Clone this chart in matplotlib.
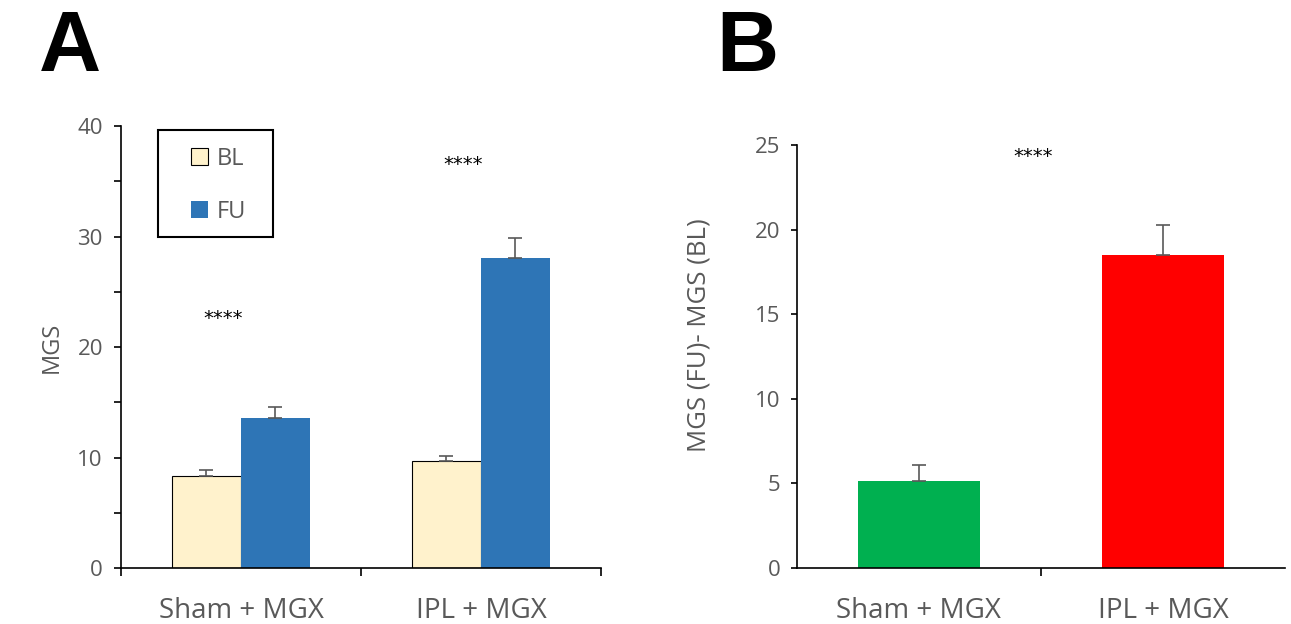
import numpy as np
import matplotlib
matplotlib.use("Agg")
import matplotlib.pyplot as plt
from matplotlib.patches import Rectangle
from matplotlib.ticker import MultipleLocator

plt.rcParams['font.family'] = ['Open Sans', 'DejaVu Sans']

# data
groups = ["Sham + MGX", "IPL + MGX"]
bl_mean = [8.3, 9.7]
bl_err = [0.6, 0.45]
fu_mean = [13.6, 28.1]
fu_err = [1.0, 1.8]
stars_a = ["****", "****"]
stars_a_y = [22.6, 36.5]

diff_mean = [5.15, 18.5]
diff_err = [0.95, 1.8]
diff_colors = ["#00b050", "#ff0000"]
stars_b = "****"
stars_b_y = 24.3

gray = "#595959"

fig = plt.figure(figsize=(12.91, 6.24), dpi=100)

# panel A
ax = fig.add_axes([0.0937, 0.0897, 0.3718, 0.7083])
x = np.arange(len(groups)) + 0.5
w = 0.2875
ax.bar(x - w/2, bl_mean, w, color="#fff2cc", edgecolor="black", linewidth=0.8, label="BL")
ax.bar(x + w/2, fu_mean, w, color="#2e75b6", edgecolor="none", label="FU")
ax.errorbar(x - w/2, bl_mean, yerr=[np.zeros(2), bl_err], fmt="none", ecolor=gray, capsize=5, elinewidth=1.2, capthick=1.2)
ax.errorbar(x + w/2, fu_mean, yerr=[np.zeros(2), fu_err], fmt="none", ecolor=gray, capsize=5, elinewidth=1.2, capthick=1.2)
for i in range(len(groups)):
    ax.text(x[i] - 0.075, stars_a_y[i], stars_a[i], ha="center", va="center", fontsize=14, family="DejaVu Sans")
ax.set_xlim(0, 2)
ax.set_ylim(0, 40)
ax.yaxis.set_major_locator(MultipleLocator(10))
ax.yaxis.set_minor_locator(MultipleLocator(5))
ax.set_xticks([0, 1, 2])
ax.set_xticklabels([])
ax.set_xticks(x, minor=True)
ax.set_xticklabels(groups, minor=True)
ax.tick_params(axis="x", which="minor", length=0, pad=21, labelsize=20, labelcolor=gray)
ax.tick_params(axis="x", which="major", length=6, width=1.2)
ax.tick_params(axis="y", which="both", length=5, width=1.2, labelsize=16, labelcolor=gray, pad=8)
ax.set_ylabel("MGS", fontsize=17, color=gray, labelpad=10)
for s in ["top", "right"]:
    ax.spines[s].set_visible(False)
for s in ["left", "bottom"]:
    ax.spines[s].set_linewidth(1.2)

# legend inside a separate box frame
ax.add_patch(Rectangle((0.077, 0.749), 0.240, 0.242, transform=ax.transAxes,
                       fill=False, edgecolor="black", linewidth=1.5, clip_on=False))
leg = ax.legend(loc="center", bbox_to_anchor=(0.203, 0.866), fontsize=17, frameon=False,
                handlelength=0.75, handleheight=0.75, labelspacing=1.25, handletextpad=0.35,
                borderpad=0, borderaxespad=0)
for t in leg.get_texts():
    t.set_color(gray)
fig.text(0.03, 0.985, "A", fontsize=62, fontweight="bold", va="top", family="Liberation Sans")

# panel B
bx = fig.add_axes([0.6173, 0.0897, 0.378, 0.6779])
bx.bar(x, diff_mean, 0.5, color=diff_colors)
bx.errorbar(x, diff_mean, yerr=[np.zeros(2), diff_err], fmt="none", ecolor=gray, capsize=5, elinewidth=1.2, capthick=1.2)
bx.text(0.97, stars_b_y, stars_b, ha="center", va="center", fontsize=14, family="DejaVu Sans")
bx.set_xlim(0, 2)
bx.set_ylim(0, 25)
bx.yaxis.set_major_locator(MultipleLocator(5))
bx.set_xticks([1])
bx.set_xticklabels([])
bx.set_xticks(x, minor=True)
bx.set_xticklabels(groups, minor=True)
bx.tick_params(axis="x", which="minor", length=0, pad=21, labelsize=20, labelcolor=gray)
bx.tick_params(axis="x", which="major", length=6, width=1.2)
bx.tick_params(axis="y", which="both", length=4, width=1.2, labelsize=16, labelcolor=gray, pad=8)
bx.set_ylabel("MGS (FU)- MGS (BL)", fontsize=18.5, color=gray)
bx.yaxis.set_label_coords(-0.175, 0.55)
for s in ["top", "right"]:
    bx.spines[s].set_visible(False)
for s in ["left", "bottom"]:
    bx.spines[s].set_linewidth(1.2)
fig.text(0.555, 0.985, "B", fontsize=62, fontweight="bold", va="top", family="Liberation Sans")

fig.savefig("out.png", dpi=100)
